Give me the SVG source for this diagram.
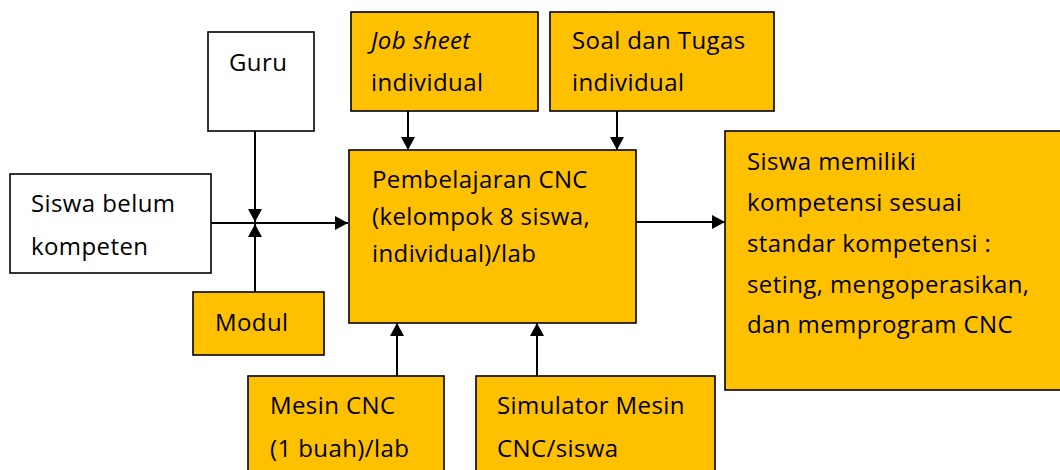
<svg xmlns="http://www.w3.org/2000/svg" width="1060" height="470" viewBox="0 0 1060 470">
<defs>
<style>
.box{fill:#FFC000;stroke:#000;stroke-width:1.6}
.wbox{fill:#fff;stroke:#000;stroke-width:1.6}
text{font-family:"Open Sans","Liberation Sans",sans-serif;font-size:24px;letter-spacing:0.4px;fill:#000}
.c{stroke:#000;stroke-width:2;fill:none}
</style>
<marker id="ah" viewBox="0 0 13 14" refX="13" refY="7" markerWidth="13" markerHeight="14" markerUnits="userSpaceOnUse" orient="auto">
<path d="M0,0 L13,7 L0,14 Z" fill="#000"/>
</marker>
</defs>
<rect width="1060" height="470" fill="#fff"/>
<g id="guru"><rect class="wbox" x="208" y="32" width="106" height="99"/><text x="229" y="71">Guru</text></g>
<g id="siswa-belum"><rect class="wbox" x="10" y="174" width="201" height="99"/><text x="31" y="212">Siswa belum</text><text x="31" y="255">kompeten</text></g>
<g id="modul"><rect class="box" x="193" y="292" width="131" height="63"/><text x="215" y="331">Modul</text></g>
<g id="job-sheet"><rect class="box" x="351" y="12" width="187" height="99"/><text x="371" y="49" font-style="italic">Job sheet</text><text x="371" y="91">individual</text></g>
<g id="soal"><rect class="box" x="550" y="12" width="224" height="99"/><text x="572" y="49">Soal dan Tugas</text><text x="572" y="91">individual</text></g>
<g id="pembelajaran"><rect class="box" x="349" y="150" width="287" height="173"/><text x="372" y="188">Pembelajaran CNC</text><text x="372" y="225">(kelompok 8 siswa,</text><text x="372" y="262">individual)/lab</text></g>
<g id="hasil"><rect class="box" x="725" y="131" width="340" height="259"/><text x="747" y="170">Siswa memiliki</text><text x="747" y="211">kompetensi sesuai</text><text x="747" y="252">standar kompetensi :</text><text x="747" y="293">seting, mengoperasikan,</text><text x="747" y="333">dan memprogram CNC</text></g>
<g id="mesin"><rect class="box" x="248" y="376" width="196" height="110"/><text x="270" y="414">Mesin CNC</text><text x="270" y="457">(1 buah)/lab</text></g>
<g id="simulator"><rect class="box" x="476" y="376" width="239" height="110"/><text x="497" y="414">Simulator Mesin</text><text x="497" y="457">CNC/siswa</text></g>
<g id="connectors">
<line class="c" x1="211" y1="223" x2="348" y2="223" marker-end="url(#ah)"/>
<line class="c" x1="255" y1="131" x2="255" y2="222" marker-end="url(#ah)"/>
<line class="c" x1="255" y1="292" x2="255" y2="224" marker-end="url(#ah)"/>
<line class="c" x1="408" y1="111" x2="408" y2="150" marker-end="url(#ah)"/>
<line class="c" x1="617" y1="111" x2="617" y2="150" marker-end="url(#ah)"/>
<line class="c" x1="636" y1="222" x2="725" y2="222" marker-end="url(#ah)"/>
<line class="c" x1="397" y1="376" x2="397" y2="323" marker-end="url(#ah)"/>
<line class="c" x1="537" y1="376" x2="537" y2="323" marker-end="url(#ah)"/>
</g>
</svg>
